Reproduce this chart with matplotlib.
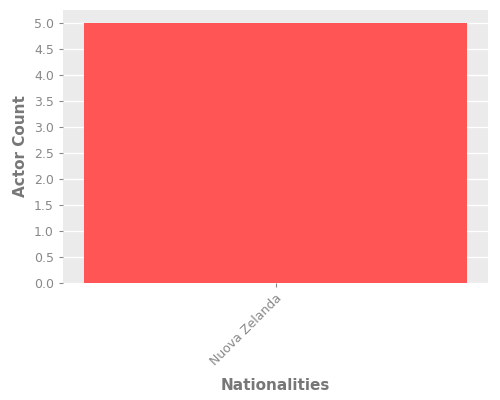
import matplotlib
matplotlib.use("Agg")
import matplotlib.pyplot as plt

categories = ["Nuova Zelanda"]
values = [5]

fig, ax = plt.subplots(figsize=(5, 4), dpi=100)
ax.set_facecolor("#EBEBEB")
ax.bar(categories, values, color="#FF5555", width=0.8, zorder=3)
ax.set_xlim(-0.4444, 0.4444)
ax.yaxis.grid(True, color="white", linewidth=1, zorder=0)
ax.xaxis.grid(False)
for s in ax.spines.values():
    s.set_visible(False)
ax.tick_params(colors="#888888", labelsize=9, length=3)
ax.tick_params(axis="x", labelrotation=45)
for lbl in ax.get_xticklabels():
    lbl.set_ha("right")
    lbl.set_rotation_mode("anchor")
ax.set_yticks([0, 0.5, 1, 1.5, 2, 2.5, 3, 3.5, 4, 4.5, 5])
ax.set_xlabel("Nationalities", color="#777777", fontsize=11, fontweight="bold", labelpad=7)
ax.set_ylabel("Actor Count", color="#777777", fontsize=11, fontweight="bold")
fig.subplots_adjust(left=0.126, right=0.976, top=0.975, bottom=0.2925)
fig.savefig("out.png", dpi=100)
